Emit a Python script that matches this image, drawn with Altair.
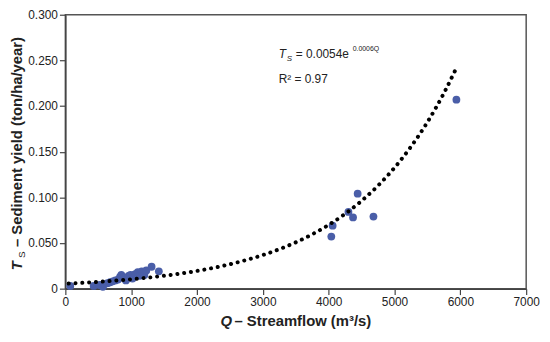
import altair as alt
import pandas as pd

# Observed points (Q in m3/s, Ts in ton/ha/year)
q_obs = [75, 430, 520, 570, 600, 640, 680, 720, 760, 800, 830, 850, 880, 920, 960,
         990, 1020, 1060, 1100, 1130, 1160, 1200, 1230, 1310, 1420,
         4040, 4060, 4300, 4370, 4440, 4680, 5940]
ts_obs = [0.003, 0.003, 0.004, 0.002, 0.005, 0.006, 0.007, 0.008, 0.009, 0.010, 0.013,
          0.015, 0.012, 0.009, 0.014, 0.015, 0.011, 0.016, 0.018, 0.014, 0.019, 0.015,
          0.020, 0.024, 0.019,
          0.057, 0.069, 0.084, 0.078, 0.104, 0.079, 0.207]

# Fitted trend curve
q_fit = [50, 250, 500, 750, 1000, 1250, 1500, 1750, 2000, 2250, 2500, 2750, 3000,
         3250, 3500, 3750, 4000, 4250, 4500, 4750, 5000, 5250, 5500, 5750, 5920]
ts_fit = [0.00558, 0.00634, 0.00744, 0.00873, 0.01024, 0.01202, 0.01410, 0.01655,
          0.01942, 0.02279, 0.02675, 0.03139, 0.03683, 0.04322, 0.05072, 0.05952,
          0.06986, 0.08197, 0.09619, 0.11287, 0.1325, 0.1555, 0.1824, 0.2141, 0.2387]

x_ticks = [0, 1000, 2000, 3000, 4000, 5000, 6000, 7000]
y_ticks = [0, 0.05, 0.1, 0.15, 0.2, 0.25, 0.3]

obs = pd.DataFrame({"Q": q_obs, "Ts": ts_obs})
fit = pd.DataFrame({"Q": q_fit, "Ts": ts_fit})

FONT = "Liberation Sans"
TXT = "#222222"

xscale = alt.Scale(domain=[0, 7000], nice=False, zero=False)
yscale = alt.Scale(domain=[0, 0.3], nice=False, zero=False)

xaxis = alt.Axis(values=x_ticks, format="d", title=None, labelFontSize=12,
                 labelColor=TXT, labelFont=FONT, tickSize=6, labelPadding=2,
                 grid=False, labelFlush=False)
yaxis = alt.Axis(values=y_ticks, title=None, labelFontSize=12, labelColor=TXT,
                 labelFont=FONT, tickSize=6, labelPadding=2, grid=False,
                 labelExpr="datum.value == 0 ? '0' : format(datum.value, '.3f')")

points = alt.Chart(obs).mark_circle(size=62, opacity=1, color="#4a5ea8").encode(
    x=alt.X("Q:Q", scale=xscale, axis=xaxis),
    y=alt.Y("Ts:Q", scale=yscale, axis=yaxis),
)

curve = alt.Chart(fit).mark_line(
    color="#000000", strokeWidth=4, strokeDash=[0.1, 6.8], strokeCap="round",
    interpolate="monotone",
).encode(x=alt.X("Q:Q", scale=xscale), y=alt.Y("Ts:Q", scale=yscale))


def label(text, x, y, size, style="normal", weight="normal", angle=0, align="left"):
    return alt.Chart(pd.DataFrame({"t": [text]})).mark_text(
        font=FONT, fontSize=size, fontStyle=style, fontWeight=weight, color=TXT,
        align=align, baseline="alphabetic", angle=angle,
    ).encode(x=alt.value(x), y=alt.value(y), text="t:N")


texts = [
    # y-axis title
    label("T", -44, 258.5, 15, "italic", "bold", 270),
    label("S", -41, 246, 10, "normal", "normal", 270),
    label("– Sediment yield (ton/ha/year)", -44, 235, 15, "normal", "bold", 270),
    # x-axis title
    label("Q", 157, 315, 15, "italic", "bold"),
    label("– Streamflow (m³/s)", 171, 315, 15, "normal", "bold"),
    # equation
    label("T", 215.7, 44, 12, "italic"),
    label("S", 224, 47, 8, "italic"),
    label("= 0.0054e", 233, 44, 12),
    label("0.0006Q", 290.5, 37, 7),
    label("R² = 0.97", 215.7, 69.5, 12),
]

chart = alt.layer(points, curve, *texts).properties(
    width=466, height=277,
    padding={"left": 58, "top": 5, "right": 16, "bottom": 40},
    autosize=alt.AutoSizeParams(type="none"),
).configure_view(
    stroke="#555555", strokeWidth=1.5
).configure_axis(
    domainColor="#444444", domainWidth=1.5, tickColor="#444444", tickWidth=1.2
)

chart.save("out.html", embed_options={"renderer": "svg", "actions": False})
